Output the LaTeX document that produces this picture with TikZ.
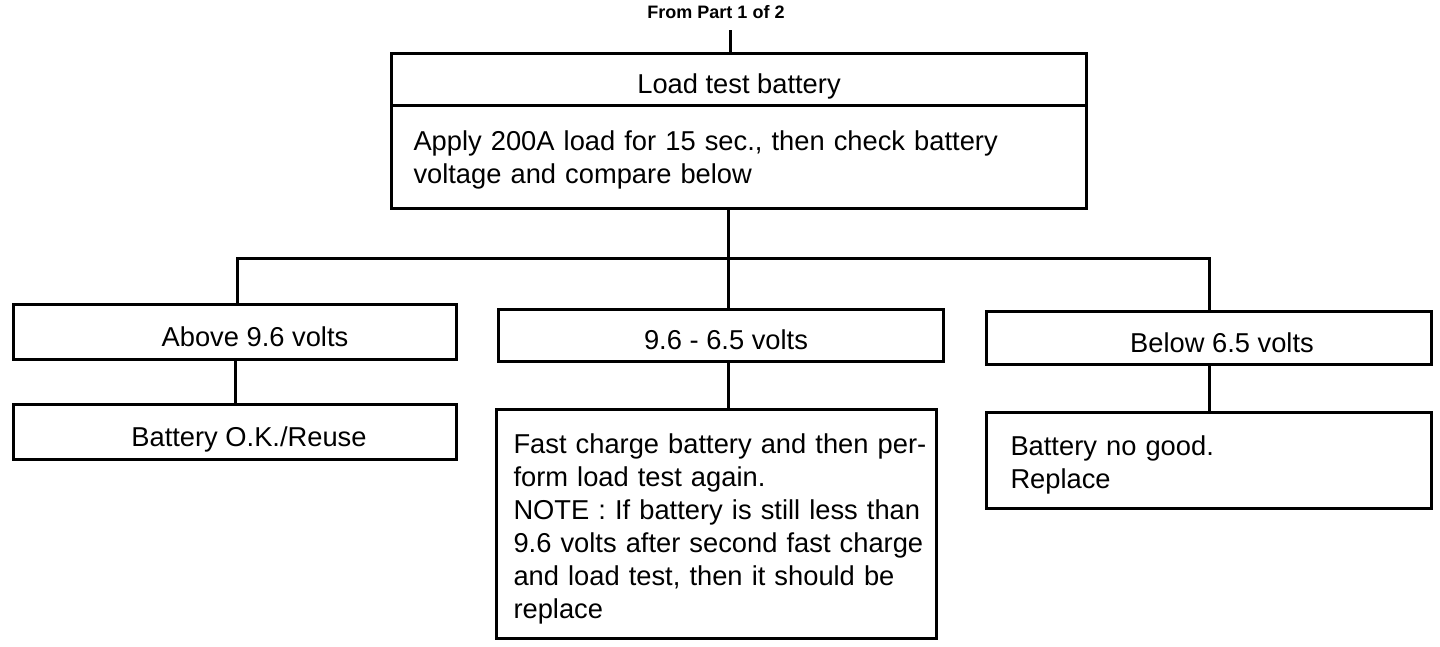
\documentclass[tikz,border=0pt]{standalone}
\usepackage{fontspec}
\setmainfont{Liberation Sans}
\begin{document}
\begin{tikzpicture}[x=1pt,y=-1pt,
  box/.style={draw, line width=3pt, rectangle, anchor=north west, inner sep=0pt,
    font=\fontsize{27.3}{33}\selectfont},
  one/.style={box, text height=30pt, text depth=2pt},
  multi/.style={box, align=left},
  link/.style={line width=3pt},
  headtext/.style={font=\bfseries\fontsize{18}{20}\selectfont, anchor=base, inner sep=0pt}]
\useasboundingbox (0,0) rectangle (1440,646);

\node[headtext] (from) at (716,18) {From Part 1 of 2};
\coordinate (fromend) at (730,30);

\node[one, minimum width=695pt, minimum height=52pt] (top1) at (390,52) {Load test battery};
\node[multi, minimum width=695pt, minimum height=103pt, inner xsep=22pt, text width=651pt] (top2) at (390,104)
  {\rule{0pt}{26pt}\mbox{Apply 200A load for 15 sec., then check battery}\\\mbox{voltage and compare below}};

\node[one, minimum width=443pt, minimum height=55pt] (above) at (12,303) {\hspace*{40pt}Above 9.6 volts};
\node[one, minimum width=443pt, minimum height=55pt] (ok) at (12,403) {\hspace*{28pt}Battery O.K./Reuse};

\node[one, minimum width=445pt, minimum height=52pt] (mid) at (497,308) {\hspace*{10pt}9.6 - 6.5 volts};
\node[multi, minimum width=440pt, minimum height=229pt, inner xsep=17pt, text width=406pt] (fast) at (495,408)
  {\rule{0pt}{30pt}\mbox{Fast charge battery and then per-}\\\mbox{form load test again.}\\\mbox{NOTE : If battery is still less than}\\\mbox{9.6 volts after second fast charge}\\\mbox{and load test, then it should be}\\\mbox{replace}};

\node[one, minimum width=445pt, minimum height=53pt] (below) at (985,310) {\hspace*{26pt}Below 6.5 volts};
\node[multi, minimum width=445pt, minimum height=96pt, inner xsep=24pt, text width=397pt] (nogood) at (985,411)
  {\rule{0pt}{28pt}\mbox{Battery no good.}\\\mbox{Replace}};

\coordinate (hub) at (728,258);
\coordinate (hL) at (237,258);
\coordinate (hR) at (1209,258);

\draw[link] (fromend) -- (fromend |- top1.north);
\draw[link] (hub |- top2.south) -- (hub |- mid.north);
\draw[link] (hL |- above.north) -- (hL) -- (hR) -- (hR |- below.north);
\draw[link] (above.south) -- (ok.north);
\draw[link] (hub |- mid.south) -- (hub |- fast.north);
\draw[link] (below.south) -- (nogood.north);
\end{tikzpicture}
\end{document}
